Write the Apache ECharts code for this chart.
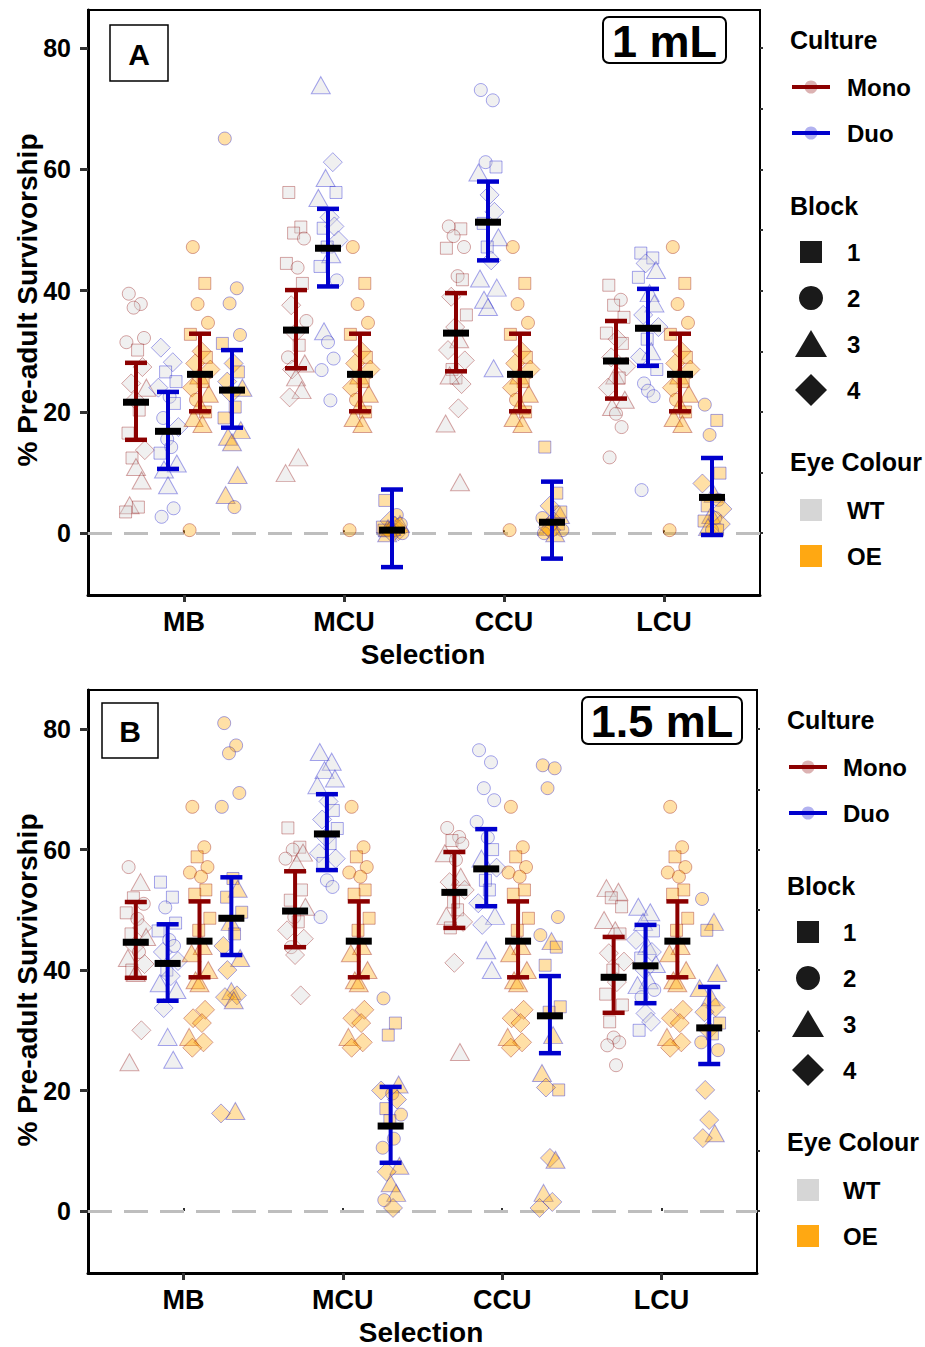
<!DOCTYPE html>
<html><head><meta charset="utf-8">
<script src="https://cdn.jsdelivr.net/npm/echarts@6/dist/echarts.min.js"></script>
<style>html,body{margin:0;padding:0;background:#fff}#c{width:925px;height:1347px}</style>
</head><body><div id="c"></div>
<script>
// ---------------- DATA ----------------
const selections = ['MB', 'MCU', 'CCU', 'LCU'];
const yTickValues = [0, 20, 40, 60, 80];
const blockNames = ['1', '2', '3', '4'];
const cultureNames = ['Mono', 'Duo'];
const eyeNames = ['WT', 'OE'];

// Panel A (1 mL): error bars [mean, lower, upper] per selection
const A_monoWT_ci = [[21.6, 15.4, 28.1], [33.5, 27.2, 40.1], [33.0, 26.7, 39.6], [28.4, 22.2, 35.0]];
const A_duoWT_ci  = [[16.8, 10.6, 23.3], [47.0, 40.7, 53.5], [51.3, 45.0, 58.0], [33.8, 27.6, 40.3]];
const A_monoOE_ci = [[26.2, 20.1, 32.9], [26.2, 20.1, 32.9], [26.2, 20.1, 32.9], [26.2, 20.1, 32.9]];
const A_duoOE_ci  = [[23.6, 17.4, 30.2], [0.5, -5.6, 7.2], [1.8, -4.2, 8.5], [5.9, -0.3, 12.4]];

// Panel A points: [value, block] per selection
const A_monoWT_pts = [
  [[39.5,2],[37.8,2],[37.2,2],[32.2,2],[31.5,2],[30.2,1],[27.4,4],[24.7,4],[24,3],[22,4],[20.3,1],[16.5,1],[13.7,4],[12.4,1],[10.9,3],[8.7,3],[4.6,3],[4.3,1],[3.5,1]],
  [[56.2,1],[50.5,1],[49.5,1],[48.6,2],[44.5,1],[43.8,2],[41.2,1],[37.6,4],[35,2],[33,4],[31,1],[29,2],[28,3],[27,4],[25.7,3],[23.6,3],[22.4,4],[12.5,3],[9.9,3]],
  [[50.6,2],[50.2,1],[49,2],[47.2,2],[47,1],[42.4,2],[41.8,1],[39,4],[36,1],[34,4],[32,3],[30.2,4],[28.5,4],[27,1],[25.6,1],[24.6,4],[26,3],[20.6,4],[18.1,3],[8.4,3]],
  [[40.9,1],[38.5,2],[37.6,1],[35.6,1],[33,1],[32,4],[31.3,1],[29,4],[27.5,4],[26,3],[25.6,1],[24,4],[22,3],[20.8,3],[19.7,2],[17.5,2],[12.5,2]]
];
const A_duoWT_pts = [
  [[30.6,4],[28.2,4],[26.6,1],[25,1],[24,4],[22.5,2],[21.4,1],[19,2],[17.5,4],[15.5,2],[14.2,2],[13.2,1],[11.5,3],[10.5,3],[7.9,3],[4.1,2],[2.7,2]],
  [[73.9,3],[61.2,4],[58.6,3],[56.2,1],[55.3,3],[52.1,4],[50.6,4],[50.3,1],[48.3,4],[47.2,1],[46,3],[44,1],[41.7,2],[33.3,3],[31.5,2],[28.8,2],[26.9,2],[21.9,2]],
  [[73.1,2],[71.4,2],[61.2,2],[60.4,1],[59.5,3],[55.8,4],[53,4],[51.1,1],[48.8,3],[47.2,1],[45,4],[42,3],[40.5,3],[38.5,3],[37.3,3],[27.2,3]],
  [[46.2,1],[45.4,1],[44.5,4],[43.4,3],[42.2,1],[39.6,3],[37.9,3],[36,4],[34,4],[32,1],[30,3],[29,4],[27,1],[24.7,2],[23.5,2],[22.6,2],[7.1,2]]
];
const A_monoOE_shared = [[47.2,2],[41.2,1],[37.8,2],[34.7,2],[32.8,1],[30,4],[29,1],[28,4],[27,4],[26,3],[25,1],[24,4],[23,3],[22,2],[21,3],[20,1],[19,3],[18,3],[0.5,2]];
const A_monoOE_pts = [A_monoOE_shared, A_monoOE_shared, A_monoOE_shared, A_monoOE_shared];
const A_duoOE_pts = [
  [[65.1,2],[40.4,2],[37.9,2],[32.7,2],[31.3,1],[28,4],[26.6,1],[25,4],[24,3],[23,4],[20.8,1],[19,1],[17,3],[15.9,3],[15,3],[9.6,3],[6.3,3],[4.3,2]],
  [[5.4,1],[3,2],[2,4],[1.5,3],[1,1],[0.5,2],[0.3,4],[0,3],[0,2],[1,3],[1.2,4],[0.5,1],[1.5,2],[0.8,3],[0,4]],
  [[14.2,1],[6.6,1],[4.5,4],[3,3],[2.5,2],[2,4],[1.5,1],[1,3],[0.5,2],[0.5,4],[0,3],[0,2],[3.5,1],[1,4]],
  [[21.2,2],[18.6,1],[16.2,2],[9.9,1],[8.2,4],[6.5,3],[5.5,2],[4.5,1],[4,4],[3,3],[2.5,2],[2,1],[1.5,4],[1,3],[0.5,2],[0.5,1]]
];

// Panel B (1.5 mL)
const B_monoWT_ci = [[44.6, 38.7, 51.3], [49.8, 43.8, 56.4], [52.9, 47.0, 59.6], [38.8, 32.9, 45.5]];
const B_duoWT_ci  = [[41.1, 34.9, 47.6], [62.6, 56.6, 69.2], [56.8, 50.6, 63.4], [40.7, 34.5, 47.5]];
const B_monoOE_ci = [[44.8, 38.8, 51.4], [44.8, 38.8, 51.4], [44.8, 38.8, 51.4], [44.8, 38.8, 51.4]];
const B_duoOE_ci  = [[48.6, 42.5, 55.4], [14.1, 8.0, 20.6], [32.4, 26.2, 39.0], [30.4, 24.4, 37.2]];

const B_monoWT_pts = [
  [[57.1,2],[54.6,3],[52,1],[51,2],[49.5,1],[48.5,2],[47,4],[46,1],[45.5,3],[44,4],[43,2],[42,3],[41,4],[40,1],[39.5,3],[30,4],[24.7,3]],
  [[63.6,1],[60.4,1],[60,2],[59.5,3],[58.5,2],[57.7,3],[53.3,1],[51.6,1],[50.5,3],[48.8,2],[48,1],[46.6,4],[45.2,4],[43.8,2],[42.5,4],[35.8,4]],
  [[63.6,2],[62.1,2],[61.5,1],[61,2],[59.4,3],[58.3,2],[55.5,3],[54.6,4],[53.3,4],[51.3,1],[50,1],[49,3],[48,4],[47,1],[41.2,4],[26.4,3]],
  [[53.6,3],[53,3],[52,1],[50.5,1],[48.3,3],[46.6,3],[46,1],[42.8,4],[41.4,4],[40,1],[38,4],[36,1],[34.2,1],[31.4,1],[28.8,2],[28,2],[27.5,2],[24.2,2]]
];
const B_duoWT_pts = [
  [[54.6,1],[52.1,1],[50.4,2],[47.8,1],[46.5,1],[45,2],[44,2],[43,4],[41.5,4],[40,1],[39,4],[37.8,3],[36.7,3],[33.7,4],[28.9,3],[25.1,3]],
  [[76.2,3],[74.6,3],[73.2,3],[71.8,3],[70.7,3],[68,4],[66.5,1],[65,4],[63.5,1],[62,4],[61,1],[59.4,4],[58.5,4],[57.7,1],[54.9,2],[53.8,2],[48.8,2]],
  [[76.5,2],[74.5,2],[70.2,2],[68.2,2],[64.6,2],[62,2],[60,1],[58.5,3],[57,4],[54.9,1],[53.3,1],[51.1,4],[49,3],[47.5,4],[43.3,3],[40,3]],
  [[50.5,3],[49.6,3],[48,3],[46.5,1],[45,4],[44,3],[43,4],[42,1],[41,3],[40,4],[38.3,3],[37.5,3],[36.7,2],[35.5,2],[32.8,4],[31.4,4],[30,1]]
];
const B_monoOE_shared = [[67.1,2],[60.4,2],[58.8,1],[57.1,2],[56.2,2],[55.5,2],[53.3,1],[52.6,1],[48.6,1],[46.6,1],[44,3],[42.8,3],[40,3],[38.3,3],[37.8,3],[33.4,4],[32,4],[31.2,4],[28.9,3],[28,4],[27.1,4]];
const B_monoOE_pts = [B_monoOE_shared, B_monoOE_shared, B_monoOE_shared, B_monoOE_shared];
const B_duoOE_pts = [
  [[81,2],[77.3,2],[76,2],[69.4,2],[67.1,2],[55.2,1],[53.5,3],[52.1,1],[49.6,1],[48,3],[46,1],[44,4],[42,3],[40,4],[36.5,3],[35.8,4],[35.5,4],[35,3],[16.2,4],[16.6,3]],
  [[35.3,2],[31.2,1],[29.2,1],[21,3],[20,4],[19.5,2],[18.5,4],[17,1],[16,2],[15,1],[12,2],[10.5,2],[7.5,3],[6.5,4],[4.6,3],[3,3],[1.8,2],[0.5,4]],
  [[74,2],[73.5,2],[70.2,2],[48.8,2],[45.8,2],[44.8,3],[43.8,1],[40.8,1],[33.9,1],[33,1],[29.2,3],[22.9,3],[20.1,1],[20.5,4],[8.8,4],[8.5,3],[3,3],[1.5,4],[0.5,4]],
  [[51.8,2],[48,3],[46.6,1],[39.5,3],[37,3],[35.5,3],[33.8,4],[33,4],[31.2,1],[30,4],[29.4,1],[28,2],[26.7,2],[20.1,4],[15.1,4],[12.9,3],[12.1,4]]
];

// ---------------- STYLE ----------------
const FONT = '"Liberation Sans", Arial, Helvetica, sans-serif';
const MONO = '#8b0000', DUO = '#0000cd';
const JIT = [-0.045,0.03,-0.015,0.05,-0.06,0.01,0.04,-0.03,0.065,-0.005,0.02,-0.05,0.055,-0.025,0.0,0.035,-0.04,0.015,-0.065,0.025];
const SYM = {1:'rect', 2:'circle', 3:'triangle', 4:'diamond'};
const SYMSIZE = {1:12, 2:13, 3:[19,17], 4:[19,19]};
const ALPHA = 0.35;
const fillOf = {WT: 'rgba(211,211,211,' + ALPHA + ')', OE: 'rgba(255,165,0,' + ALPHA + ')'};
const strokeOf = {Mono: 'rgba(139,0,0,' + ALPHA + ')', Duo: 'rgba(0,0,205,' + ALPHA + ')'};

const subgroups = [
  {key:'monoWT', off:-0.3, culture:'Mono', eye:'WT'},
  {key:'duoWT',  off:-0.1, culture:'Duo',  eye:'WT'},
  {key:'monoOE', off: 0.1, culture:'Mono', eye:'OE'},
  {key:'duoOE',  off: 0.3, culture:'Duo',  eye:'OE'}
];

const panels = [
  {pts:{monoWT:A_monoWT_pts, duoWT:A_duoWT_pts, monoOE:A_monoOE_pts, duoOE:A_duoOE_pts},
   ci:{monoWT:A_monoWT_ci, duoWT:A_duoWT_ci, monoOE:A_monoOE_ci, duoOE:A_duoOE_ci},
   grid:{left:88, top:10, width:672, height:585}, ymin:-10.2, ymax:86.3},
  {pts:{monoWT:B_monoWT_pts, duoWT:B_duoWT_pts, monoOE:B_monoOE_pts, duoOE:B_duoOE_pts},
   ci:{monoWT:B_monoWT_ci, duoWT:B_duoWT_ci, monoOE:B_monoOE_ci, duoOE:B_duoOE_ci},
   grid:{left:88, top:690, width:669, height:583}, ymin:-10.3, ymax:86.5}
];

const grids = [], xAxes = [], yAxes = [], series = [];
panels.forEach((p, pi) => {
  grids.push(Object.assign({show:true, borderColor:'#000', borderWidth:2, backgroundColor:'#fff'}, p.grid));
  const catTicks = selections.map((s, i) => i + 1);
  xAxes.push({gridIndex:pi, type:'value', min:0.4, max:4.6, position:'bottom',
    axisLine:{show:true, onZero:false, lineStyle:{color:'#000', width:3}},
    axisTick:{show:true, customValues:catTicks, length:7, lineStyle:{color:'#333', width:3}},
    axisLabel:{show:true, customValues:catTicks, formatter:v => selections[Math.round(v) - 1] || '',
      fontSize:27, fontWeight:'bold', color:'#000', fontFamily:FONT, margin:13},
    splitLine:{show:false}});
  xAxes.push({gridIndex:pi, type:'value', min:0.4, max:4.6, position:'top',
    axisLine:{show:false}, axisTick:{show:true, customValues:catTicks, length:3, lineStyle:{color:'#333', width:2}},
    axisLabel:{show:false}, splitLine:{show:false}});
  yAxes.push({gridIndex:pi, type:'value', min:p.ymin, max:p.ymax, position:'left',
    axisLine:{show:true, onZero:false, lineStyle:{color:'#000', width:3}},
    axisTick:{show:true, customValues:yTickValues, length:8, lineStyle:{color:'#333', width:3}},
    axisLabel:{show:true, customValues:yTickValues, fontSize:25, fontWeight:'bold', color:'#000', fontFamily:FONT, margin:17},
    splitLine:{show:false}});
  yAxes.push({gridIndex:pi, type:'value', min:p.ymin, max:p.ymax, position:'right',
    axisLine:{show:false}, axisTick:{show:true, customValues:[0,10,20,30,40,50,60,70,80], length:3, lineStyle:{color:'#333', width:2}},
    axisLabel:{show:false}, splitLine:{show:false}});
  const xi = pi * 2, yi = pi * 2;

  subgroups.forEach((g, gi) => {
    const data = [];
    p.pts[g.key].forEach((list, si) => {
      list.forEach((pt, k) => {
        const v = pt[0], b = pt[1];
        data.push({value:[si + 1 + g.off + JIT[k % JIT.length], v], symbol:SYM[b], symbolSize:SYMSIZE[b]});
      });
    });
    const s = {type:'scatter', xAxisIndex:xi, yAxisIndex:yi, data:data, z:2, silent:true,
      itemStyle:{color:fillOf[g.eye], borderColor:strokeOf[g.culture], borderWidth:1, opacity:1}};
    if (gi === 0) {
      s.markLine = {silent:true, symbol:['none','none'], label:{show:false}, z:1,
        lineStyle:{color:'#bebebe', width:3, type:[24,12]}, data:[{yAxis:0}]};
    }
    series.push(s);
  });

  subgroups.forEach(g => {
    const color = g.culture === 'Mono' ? MONO : DUO;
    const data = p.ci[g.key].map((c, si) => [si + 1 + g.off, c[0], c[1], c[2]]);
    series.push({type:'custom', xAxisIndex:xi, yAxisIndex:yi, z:5, silent:true,
      encode:{x:0, y:1}, data:data,
      renderItem:(params, api) => {
        const x = api.value(0);
        const m = api.coord([x, api.value(1)]);
        const lo = api.coord([x, api.value(2)]);
        const hi = api.coord([x, api.value(3)]);
        return {type:'group', children:[
          {type:'line', shape:{x1:m[0], y1:lo[1], x2:m[0], y2:hi[1]}, style:{stroke:color, lineWidth:4}},
          {type:'line', shape:{x1:m[0]-11, y1:hi[1], x2:m[0]+11, y2:hi[1]}, style:{stroke:color, lineWidth:4.5}},
          {type:'line', shape:{x1:m[0]-11, y1:lo[1], x2:m[0]+11, y2:lo[1]}, style:{stroke:color, lineWidth:4.5}},
          {type:'rect', shape:{x:m[0]-13, y:m[1]-3.5, width:26, height:7}, style:{fill:'#000'}}
        ]};
      }});
  });
});

// ---------------- GRAPHIC (legends, labels, titles) ----------------
const graphic = [];
function txt(x, y, text, size, opts) {
  return Object.assign({type:'text', x:x, y:y, z:10, silent:true,
    style:{text:text, fontSize:size, fontWeight:'bold', fontFamily:FONT, fill:'#000', align:'left', verticalAlign:'middle'}}, opts || {});
}
function legend(tx, ix, sx, dy) {
  graphic.push(txt(tx, 40 + dy, 'Culture', 25));
  [[MONO, 'rgba(139,0,0,0.3)', 87], [DUO, 'rgba(0,0,205,0.3)', 133]].forEach((c, i) => {
    const y = c[2] + dy;
    graphic.push({type:'line', shape:{x1:sx - 19, y1:y, x2:sx + 19, y2:y}, style:{stroke:c[0], lineWidth:4}, z:10});
    graphic.push({type:'circle', shape:{cx:sx, cy:y, r:6.5}, style:{fill:c[1]}, z:11});
    graphic.push(txt(ix, y, cultureNames[i], 24));
  });
  graphic.push(txt(tx, 206 + dy, 'Block', 25));
  const k = '#1a1a1a';
  graphic.push({type:'rect', shape:{x:sx - 11, y:252 + dy - 11, width:22, height:22}, style:{fill:k}, z:10});
  graphic.push({type:'circle', shape:{cx:sx, cy:298 + dy, r:12}, style:{fill:k}, z:10});
  graphic.push({type:'polygon', shape:{points:[[sx - 16, 357 + dy], [sx + 16, 357 + dy], [sx, 330 + dy]]}, style:{fill:k}, z:10});
  graphic.push({type:'polygon', shape:{points:[[sx - 16, 390 + dy], [sx, 374 + dy], [sx + 16, 390 + dy], [sx, 406 + dy]]}, style:{fill:k}, z:10});
  [252, 298, 344, 390].forEach((y, i) => graphic.push(txt(ix, y + dy, blockNames[i], 24)));
  graphic.push(txt(tx, 462 + dy, 'Eye Colour', 25));
  graphic.push({type:'rect', shape:{x:sx - 11, y:510 + dy - 11, width:22, height:22}, style:{fill:'#d6d6d6'}, z:10});
  graphic.push({type:'rect', shape:{x:sx - 11, y:556 + dy - 11, width:22, height:22}, style:{fill:'#ffa812'}, z:10});
  graphic.push(txt(ix, 510 + dy, eyeNames[0], 24));
  graphic.push(txt(ix, 556 + dy, eyeNames[1], 24));
}
legend(790, 847, 811, 0);
legend(787, 843, 808, 680);

// Panel tags
graphic.push({type:'rect', shape:{x:110, y:25, width:58, height:56}, style:{fill:'#fff', stroke:'#000', lineWidth:1.5}, z:10});
graphic.push(txt(139, 54, 'A', 30, {style:{text:'A', fontSize:30, fontWeight:'bold', fontFamily:FONT, fill:'#000', align:'center', verticalAlign:'middle'}}));
graphic.push({type:'rect', shape:{x:102, y:703, width:56, height:55}, style:{fill:'#fff', stroke:'#000', lineWidth:1.5}, z:10});
graphic.push(txt(130, 731, 'B', 30, {style:{text:'B', fontSize:30, fontWeight:'bold', fontFamily:FONT, fill:'#000', align:'center', verticalAlign:'middle'}}));

// Volume boxes
graphic.push({type:'rect', shape:{x:603, y:17, width:123, height:46, r:6}, style:{fill:'#fff', stroke:'#000', lineWidth:2}, z:10});
graphic.push(txt(664.5, 41, '1 mL', 45, {style:{text:'1 mL', fontSize:45, fontWeight:'bold', fontFamily:FONT, fill:'#000', align:'center', verticalAlign:'middle'}}));
graphic.push({type:'rect', shape:{x:582, y:697, width:160, height:47, r:6}, style:{fill:'#fff', stroke:'#000', lineWidth:2}, z:10});
graphic.push(txt(662, 721, '1.5 mL', 45, {style:{text:'1.5 mL', fontSize:45, fontWeight:'bold', fontFamily:FONT, fill:'#000', align:'center', verticalAlign:'middle'}}));

// Axis titles
[[300, 654, 423], [980, 1332, 421]].forEach(a => {
  graphic.push({type:'text', x:27, y:a[0], rotation:Math.PI / 2, z:10, silent:true,
    style:{text:'% Pre-adult Survivorship', fontSize:28, fontWeight:'bold', fontFamily:FONT, fill:'#000', align:'center', verticalAlign:'middle'}});
  graphic.push({type:'text', x:a[2], y:a[1], z:10, silent:true,
    style:{text:'Selection', fontSize:28, fontWeight:'bold', fontFamily:FONT, fill:'#000', align:'center', verticalAlign:'middle'}});
});

const chart = echarts.init(document.getElementById('c'), null, {renderer:'svg'});
chart.setOption({
  animation:false,
  backgroundColor:'#fff',
  grid:grids, xAxis:xAxes, yAxis:yAxes, series:series, graphic:graphic
});
</script></body></html>
